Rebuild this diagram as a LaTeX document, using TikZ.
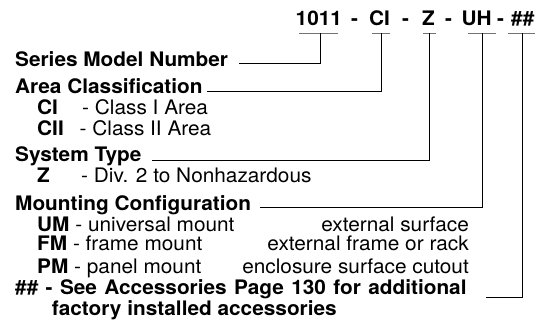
\documentclass[tikz,border=0pt]{standalone}
\usepackage{fontspec}
\setmainfont{TeX Gyre Heros}[FakeStretch=1.04]
\begin{document}
\begin{tikzpicture}[x=1pt,y=-1pt,
  txt/.style={anchor=base west, inner sep=0pt, font=\fontsize{20}{24}\selectfont},
  bold/.style={anchor=base west, inner sep=0pt, font=\fontsize{20}{24}\selectfont\bfseries},
  rtxt/.style={txt, anchor=base east},
  conn/.style={draw=black, line width=0.9pt},
  uline/.style={draw=black!55, line width=0.9pt}]
\useasboundingbox[fill=white] (0,0) rectangle (546,331);

% top model code
\node[bold] (t1011) at (295.5,26) {1011};
\node[bold] (d1) at (351,26) {-};
\node[bold] (tCI) at (369,26) {CI};
\node[bold] (d2) at (402,26) {-};
\node[bold] (tZ) at (422,26) {Z};
\node[bold] (d3) at (445,26) {-};
\node[bold] (tUH) at (461.5,26) {UH};
\node[bold] (d4) at (497,26) {-};
\node[bold] (tHH) at (511,26) {\#\#};

% underline end points and centres
\coordinate (aL) at (299,33); \coordinate (aR) at (338,33); \coordinate (aM) at (320,33);
\coordinate (bL) at (372,33); \coordinate (bR) at (390,33); \coordinate (bM) at (381,33);
\coordinate (cL) at (423,33); \coordinate (cR) at (436,33); \coordinate (cM) at (429,33);
\coordinate (eL) at (468,33); \coordinate (eR) at (496,33); \coordinate (eM) at (482,33);
\coordinate (fL) at (508,33); \coordinate (fR) at (535,33); \coordinate (fM) at (522,33);
\draw[uline] (aL) -- (aR);
\draw[uline] (bL) -- (bR);
\draw[uline] (cL) -- (cR);
\draw[uline] (eL) -- (eR);
\draw[uline] (fL) -- (fR);

% headings
\node[bold] (series) at (15,67) {Series Model Number};
\node[bold] (area) at (15,94) {Area Classification};
\node[bold] (ci) at (37,115) {CI};
\node[txt] (cit) at (82,115) {- Class I Area};
\node[bold] (cii) at (37,136) {CII};
\node[txt] (ciit) at (79.5,136) {- Class II Area};
\node[bold] (system) at (15,162) {System Type};
\node[bold] (z) at (37,183) {Z};
\node[txt] (zt) at (81,183) {- Div. 2 to Nonhazardous};
\node[bold] (mount) at (15,211) {Mounting Configuration};
\node[txt] (um) at (37,231) {\textbf{UM} - universal mount};
\node[rtxt] (umr) at (469,231) {external surface};
\node[txt] (fm) at (37,251) {\textbf{FM} - frame mount};
\node[rtxt] (fmr) at (469,251) {external frame or rack};
\node[txt] (pm) at (37,273) {\textbf{PM} - panel mount};
\node[rtxt] (pmr) at (469,273) {enclosure surface cutout};
\node[bold] (acc) at (15,294) {\spaceskip=7.4pt\relax \#\# - See Accessories Page 130 for additional};
\node[bold] (acc2) at (51.7,315) {factory installed accessories};

% connector start points
\coordinate (sA) at (239,63);
\coordinate (sB) at (207,91);
\coordinate (sC) at (152,160.5);
\coordinate (sE) at (260,207);
\coordinate (sF) at (486,297);
\draw[conn] (sA) -| (aM);
\draw[conn] (sB) -| (bM);
\draw[conn] (sC) -| (cM);
\draw[conn] (sE) -| (eM);
\draw[conn] (sF) -| (fM);
\end{tikzpicture}
\end{document}
